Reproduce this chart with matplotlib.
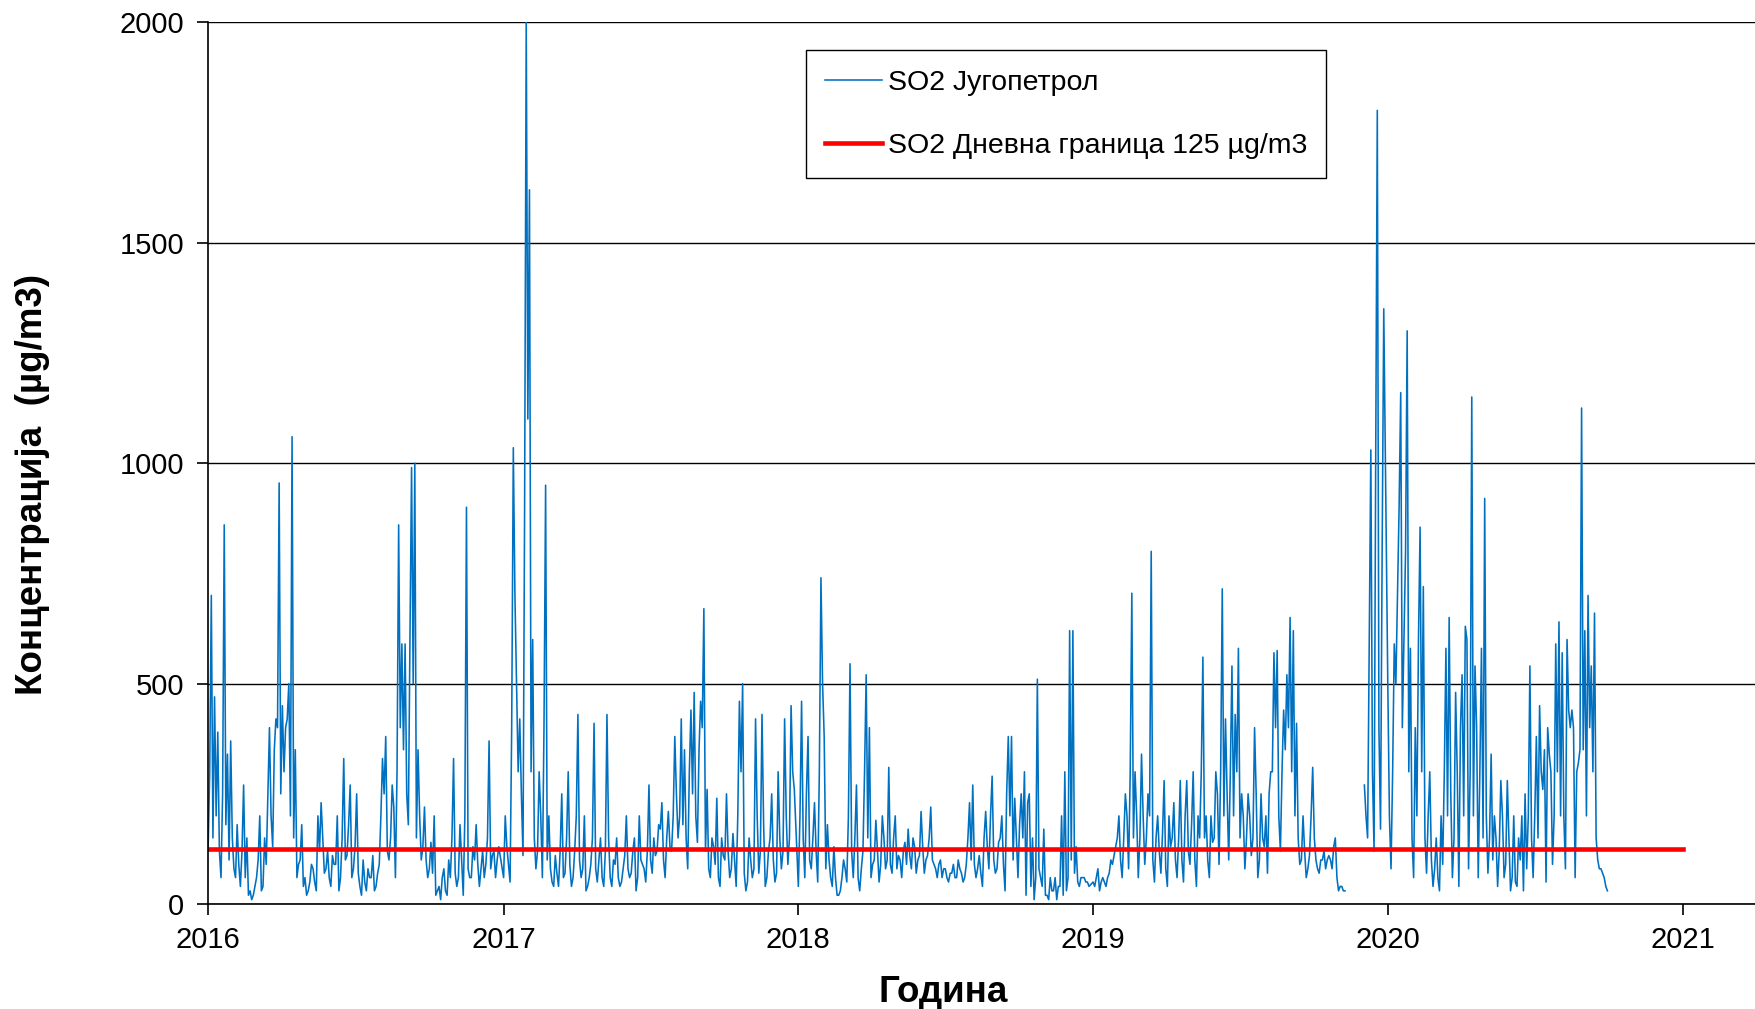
import numpy as np
import pandas as pd
import matplotlib
matplotlib.use("Agg")
import matplotlib.pyplot as plt
import matplotlib.dates as mdates

plt.rcParams['font.family'] = ['Liberation Sans', 'DejaVu Sans']

nan = np.nan

# SO2 values (µg/m3), read every 4 days from Jan 1 of each year ...
so2_2016 = [120, 700, 470, 390, 60, 860, 340, 370, 80, 180, 40, 270, 150, 30, 20, 60,
            200, 40, 90, 400, 130, 420, 955, 450, 400, 500, 1060, 350, 90, 180, 60, 30,
            90, 50, 200, 230, 70, 120, 40, 90, 200, 60, 330, 110, 270, 80, 250, 40,
            100, 30, 60, 110, 40, 90, 330, 380, 100, 270, 60, 860, 590, 590, 180, 990,
            1000, 350, 100, 220, 60, 140, 200, 30, 10, 80, 20, 60, 330, 40, 180, 20,
            900, 60, 130, 180, 40, 120, 90, 370, 110, 60, 130]
so2_2017 = [60, 130, 50, 1035, 500, 420, 110, 2000, 1620, 600, 80, 300, 60, 950, 200, 50,
            110, 40, 250, 70, 300, 40, 120, 430, 60, 200, 40, 90, 410, 50, 150, 40,
            430, 60, 100, 150, 40, 80, 200, 60, 120, 30, 200, 90, 50, 270, 70, 110,
            180, 230, 60, 210, 120, 380, 150, 420, 350, 80, 440, 480, 140, 460, 670, 260,
            60, 130, 240, 40, 110, 250, 60, 160, 40, 460, 500, 30, 150, 60, 420, 70,
            430, 40, 120, 250, 50, 300, 80, 420, 90, 450, 260]
so2_2018 = [40, 460, 60, 380, 80, 230, 50, 740, 380, 180, 60, 130, 20, 30, 100, 50,
            545, 60, 270, 30, 120, 520, 400, 90, 190, 50, 200, 80, 310, 70, 200, 110,
            60, 140, 170, 80, 130, 100, 210, 70, 110, 220, 90, 60, 100, 80, 60, 70,
            90, 60, 80, 50, 90, 230, 270, 60, 110, 40, 210, 80, 290, 70, 140, 200,
            30, 380, 380, 240, 60, 250, 300, 230, 40, 10, 510, 60, 170, 20, 60, 30,
            10, 40, 20, 30, 620, 620, 130, 40, 60, 50, 40]
so2_2019 = [50, 60, 30, 60, 40, 70, 90, 130, 200, 60, 250, 80, 705, 300, 60, 340,
            90, 250, 800, 50, 200, 70, 280, 40, 130, 230, 60, 280, 50, 280, 90, 300,
            40, 150, 560, 200, 60, 140, 300, 90, 715, 420, 100, 540, 430, 580, 250, 80,
            250, 110, 400, 60, 250, 130, 70, 300, 570, 575, 120, 440, 520, 650, 620, 410,
            90, 200, 60, 110, 310, 100, 70, 100, 80, 110, 80, 150, 30, 40, 30, nan,
            nan, nan, nan, nan, 270, 150, 1030, 120, 1800, 170, 1350]
so2_2020 = [500, 80, 590, 700, 1160, 600, 1300, 580, 60, 200, 855, 720, 70, 300, 40, 150,
            30, 90, 580, 650, 60, 480, 40, 520, 630, 80, 1150, 540, 60, 580, 920, 70,
            340, 200, 40, 280, 60, 280, 30, 200, 40, 100, 30, 80, 540, 60, 380, 450,
            260, 50, 340, 90, 590, 640, 570, 80, 440, 440, 60, 320, 1125, 620, 700, 540,
            660, 100, 80, 60, 30]

# ... and the days in between (2 days after each value above)
mid_2016 = [300, 150, 200, 120, 250, 180, 100, 150, 60, 90,
            120, 60, 20, 10, 40, 100, 30, 150, 250, 200,
            350, 400, 250, 300, 420, 200, 150, 60, 100, 40,
            20, 50, 80, 30, 120, 150, 80, 60, 110, 90,
            30, 150, 100, 180, 60, 130, 70, 20, 50, 80,
            60, 30, 70, 200, 250, 120, 150, 220, 300, 400,
            350, 250, 600, 500, 150, 200, 130, 100, 80, 70,
            20, 40, 60, 30, 100, 150, 70, 60, 100, 200,
            80, 60, 100, 90, 80, 60, 150, 80, 120, 100]
mid_2017 = [200, 90, 400, 700, 300, 250, 900, 1100, 300, 150,
            120, 200, 400, 100, 80, 40, 70, 120, 60, 150,
            90, 60, 200, 100, 80, 30, 60, 150, 80, 100,
            60, 120, 150, 40, 90, 60, 50, 110, 80, 70,
            150, 60, 100, 80, 120, 100, 150, 120, 170, 100,
            150, 130, 200, 250, 200, 180, 150, 300, 250, 200,
            350, 400, 120, 80, 150, 90, 60, 150, 100, 120,
            80, 100, 200, 300, 70, 50, 100, 80, 200, 120,
            180, 60, 150, 100, 70, 150, 120, 200, 150, 300]
mid_2018 = [200, 150, 250, 100, 150, 120, 300, 500, 80, 100,
            40, 60, 20, 60, 80, 200, 120, 150, 60, 80,
            300, 150, 60, 100, 120, 90, 150, 100, 90, 150,
            80, 100, 120, 90, 110, 150, 70, 110, 130, 100,
            150, 100, 80, 90, 60, 80, 50, 70, 60, 100,
            70, 60, 150, 100, 90, 80, 70, 150, 130, 200,
            100, 80, 150, 90, 250, 200, 100, 150, 180, 150,
            20, 250, 150, 60, 80, 40, 20, 10, 30, 60,
            40, 200, 300, 60, 100, 70, 50, 60, 60, 50]
mid_2019 = [40, 80, 50, 50, 60, 100, 110, 150, 100, 150,
            200, 300, 150, 200, 150, 200, 150, 200, 100, 150,
            120, 160, 80, 200, 150, 100, 150, 100, 200, 120,
            180, 100, 200, 300, 150, 100, 200, 150, 250, 300,
            200, 250, 300, 200, 300, 150, 200, 150, 200, 150,
            250, 100, 150, 200, 250, 300, 400, 200, 300, 350,
            400, 300, 200, 150, 100, 120, 80, 200, 150, 80,
            100, 120, 100, 100, 130, 60, 40, 30, nan, nan,
            nan, nan, nan, nan, 200, 600, 300, 1000, 400, 800]
mid_2020 = [200, 300, 500, 900, 400, 800, 300, 150, 400, 600,
            300, 150, 200, 100, 80, 60, 200, 300, 200, 250,
            150, 300, 400, 200, 600, 300, 200, 400, 300, 150,
            200, 150, 100, 150, 120, 200, 90, 150, 60, 50,
            150, 200, 250, 200, 150, 200, 150, 300, 350, 400,
            300, 200, 300, 200, 200, 600, 400, 400, 300, 350,
            350, 200, 400, 300, 150, 80, 70, 40]

years = [2016, 2017, 2018, 2019, 2020]
main_vals = [so2_2016, so2_2017, so2_2018, so2_2019, so2_2020]
mid_vals = [mid_2016, mid_2017, mid_2018, mid_2019, mid_2020]
limit_value = 125

dates = []
values = []
for yr, a, b in zip(years, main_vals, mid_vals):
    comb = np.empty(len(a) + len(b))
    comb[0::2] = a
    comb[1::2] = b
    dates.extend(pd.date_range(f"{yr}-01-01", periods=len(comb), freq="2D"))
    values.extend(comb)
dates = pd.DatetimeIndex(dates)
values = np.array(values, dtype=float)

fig = plt.figure(figsize=(17.56, 10.09), dpi=100)
ax = fig.add_axes([0.1185, 0.104, 0.8815, 0.874])

ax.plot(dates, values, color="#0070C0", linewidth=1.15, label="SO2 Југопетрол")
ax.plot([pd.Timestamp("2016-01-01"), pd.Timestamp("2021-01-01")], [limit_value, limit_value],
        color="red", linewidth=3.3, label="SO2 Дневна граница 125 µg/m3")

ax.set_ylim(0, 2000)
ax.set_xlim(pd.Timestamp("2016-01-01"), pd.Timestamp("2021-04-01"))
ax.set_yticks([0, 500, 1000, 1500, 2000])
ax.xaxis.set_major_locator(mdates.YearLocator())
ax.xaxis.set_major_formatter(mdates.DateFormatter("%Y"))
ax.yaxis.grid(True, color="black", linewidth=1.0)
ax.set_axisbelow(True)
for s in ["top", "right"]:
    ax.spines[s].set_visible(False)
ax.spines["left"].set_linewidth(1.2)
ax.spines["bottom"].set_linewidth(1.2)
ax.tick_params(axis="both", direction="out", length=8, width=1.2, labelsize=21)
ax.tick_params(axis="x", pad=8)
ax.tick_params(axis="y", pad=9)

ax.set_xlabel("Година", fontsize=26.5, fontweight="bold")
ax.xaxis.set_label_coords(0.475, -0.080)
ax.set_ylabel("Концентрација  (µg/m3)", fontsize=26.5, fontweight="bold")
ax.yaxis.set_label_coords(-0.102, 0.476)

leg = ax.legend(loc="upper left", bbox_to_anchor=(0.386, 0.968), borderaxespad=0,
                fontsize=20.5, frameon=True, fancybox=False, edgecolor="black",
                framealpha=1, handlelength=2.0, handletextpad=0.2,
                labelspacing=1.3, borderpad=0.68)
leg.get_frame().set_linewidth(1.0)

fig.savefig("out.png", dpi=100)
